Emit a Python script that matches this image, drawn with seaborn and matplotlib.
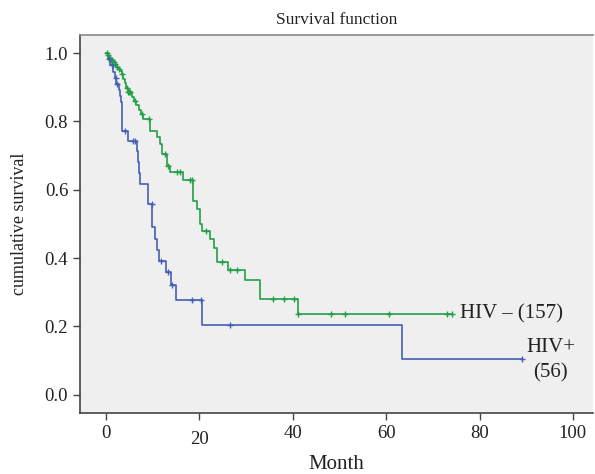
import numpy as np
import pandas as pd
import seaborn as sns
import matplotlib.pyplot as plt
from matplotlib.transforms import ScaledTranslation

# step times (month) and survival after each step
hivneg_t = [0, 0.3, 0.6, 1.0, 1.4, 1.8, 2.2, 2.6, 3.0, 3.4, 3.7, 4.0, 4.3, 4.6, 5.6, 6.0, 6.5,
            7.0, 7.5, 8.0, 9.4, 10.8, 11.6, 12.0, 13.0, 13.7, 16.5, 18.6, 19.4, 20.1, 20.6,
            22.3, 23.2, 23.7, 26.2, 29.8, 33.0, 41.0, 74.0]
hivneg_s = [1.0, 0.994, 0.987, 0.981, 0.974, 0.968, 0.961, 0.955, 0.948, 0.938, 0.925, 0.912,
            0.899, 0.886, 0.873, 0.860, 0.847, 0.834, 0.821, 0.806, 0.772, 0.754, 0.735, 0.705,
            0.669, 0.651, 0.630, 0.567, 0.543, 0.501, 0.479, 0.455, 0.430, 0.388, 0.364, 0.335,
            0.279, 0.2375, 0.2375]
hivneg_cens = [0.2, 0.5, 0.8, 1.1, 1.3, 1.6, 1.9, 2.3, 2.7, 3.4, 4.4, 4.7, 4.9, 5.1, 6.2, 7.6,
               9.1, 12.6, 13.3, 15.1, 15.8, 17.9, 18.3, 21.4, 24.8, 26.6, 28.0, 35.7, 38.1,
               40.3, 41.2, 48.2, 51.2, 60.5, 73.0, 74.0]

hivpos_t = [0, 0.3, 0.9, 1.5, 2.0, 2.2, 2.8, 3.0, 3.2, 3.3, 3.4, 4.6, 6.6, 6.9, 7.1, 7.3, 9.0,
            9.9, 10.4, 10.9, 11.4, 12.8, 13.8, 15.0, 20.6, 63.4, 89.0]
hivpos_s = [1.0, 0.982, 0.964, 0.946, 0.928, 0.910, 0.893, 0.875, 0.857, 0.820, 0.771, 0.742,
            0.713, 0.68, 0.65, 0.616, 0.557, 0.49, 0.457, 0.425, 0.393, 0.359, 0.32, 0.276,
            0.205, 0.105, 0.105]
hivpos_cens = [0.6, 1.3, 2.1, 2.4, 4.1, 5.8, 6.2, 9.8, 11.8, 13.3, 14.2, 18.3, 20.3, 26.5, 89.0]

x_ticks = [0, 20, 40, 60, 80, 100]
y_ticks = [0.0, 0.2, 0.4, 0.6, 0.8, 1.0]

green = "#22a048"
blue = "#4460b4"


def censor_points(t, s, cens):
    idx = np.searchsorted(t, cens, side="right") - 1
    return pd.DataFrame({"month": cens, "surv": np.asarray(s)[idx]})


neg = pd.DataFrame({"month": hivneg_t, "surv": hivneg_s})
pos = pd.DataFrame({"month": hivpos_t, "surv": hivpos_s})
neg_c = censor_points(hivneg_t, hivneg_s, hivneg_cens)
pos_c = censor_points(hivpos_t, hivpos_s, hivpos_cens)

sns.set_theme(style="ticks")
plt.rcParams["font.family"] = ["Liberation Serif", "DejaVu Serif"]

fig = plt.figure(figsize=(5.95, 4.74), dpi=100)
ax = fig.add_axes([0.1345, 0.129, 0.862, 0.797])
ax.set_facecolor("#efefef")

sns.lineplot(data=neg, x="month", y="surv", drawstyle="steps-post", color=green,
             linewidth=1.2, estimator=None, sort=False, ax=ax)
sns.lineplot(data=pos, x="month", y="surv", drawstyle="steps-post", color=blue,
             linewidth=1.2, estimator=None, sort=False, ax=ax)
sns.scatterplot(data=neg_c, x="month", y="surv", marker="+", color=green, s=25,
                linewidth=1.0, ax=ax, zorder=3)
sns.scatterplot(data=pos_c, x="month", y="surv", marker="+", color=blue, s=25,
                linewidth=1.0, ax=ax, zorder=3)

txt = "#222222"
ax.text(75.8, 0.2375, "HIV \u2013 (157)", fontsize=15, va="center", ha="left", color=txt)
ax.text(95.2, 0.138, "HIV+", fontsize=15, va="center", ha="center", color=txt)
ax.text(95.2, 0.065, "(56)", fontsize=15, va="center", ha="center", color=txt)

ax.set_xlim(-5.6, 104.3)
ax.set_ylim(-0.053, 1.053)
ax.set_xticks(x_ticks)
ax.set_yticks(y_ticks)
ax.set_yticklabels([f"{v:.1f}" for v in y_ticks])
ax.tick_params(labelsize=13.5, length=5, width=1, color="#444444", labelcolor=txt)
ax.set_xlabel("Month", fontsize=15, color=txt, labelpad=5)
ax.set_ylabel("cumulative survival", fontsize=13, color=txt, labelpad=12)
ax.set_title("Survival function", fontsize=12.5, color=txt, pad=8)

for side in ["left", "bottom"]:
    ax.spines[side].set_color("#444444")
    ax.spines[side].set_linewidth(1.2)
ax.spines["top"].set_color("#888888")
ax.spines["top"].set_linewidth(1.2)
ax.spines["right"].set_visible(False)

# the "20" label sits a little lower in the original
lab = ax.get_xticklabels()[1]
lab.set_transform(lab.get_transform() + ScaledTranslation(0, -6 / 100, fig.dpi_scale_trans))

fig.savefig("out.png", dpi=100)
